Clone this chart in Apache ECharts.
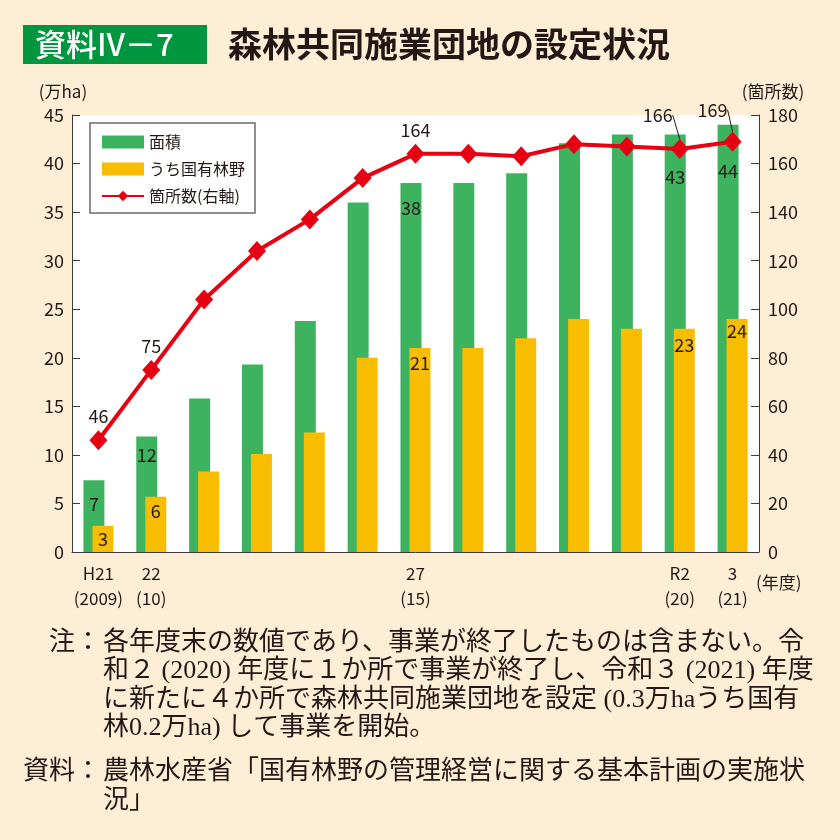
<!DOCTYPE html>
<html>
<head>
<meta charset="utf-8">
<script src="https://cdn.jsdelivr.net/npm/echarts@6/dist/echarts.min.js"></script>
<style>
html,body{margin:0;padding:0;background:#fdeed5;}
#chart{width:840px;height:840px;}
</style>
</head>
<body>
<div id="chart"></div>
<script>
// ---- data ----
const categories = ['H21','22','23','24','25','26','27','28','29','30','R1','R2','3'];
const fiscalYears = ['2009','10','11','12','13','14','15','16','17','18','19','20','21'];
const areaTotal = [7.4, 11.9, 15.8, 19.3, 23.8, 36.0, 38.0, 38.0, 39.0, 42.1, 43.0, 43.0, 44.0];
const areaNational = [2.7, 5.7, 8.3, 10.1, 12.3, 20.0, 21.0, 21.0, 22.0, 24.0, 23.0, 23.0, 24.0];
const siteCount = [46, 75, 104, 124, 137, 154, 164, 164, 163, 168, 167, 166, 169];
const shownYearIdx = [0, 1, 6, 11, 12];
const labeledIdx = [0, 1, 6, 11, 12];
const seriesNames = ['面積', 'うち国有林野', '箇所数(右軸)'];
const noteLines = [
  '各年度末の数値であり、事業が終了したものは含まない。令',
  '和２ (2020) 年度に１か所で事業が終了し、令和３ (2021) 年度',
  'に新たに４か所で森林共同施業団地を設定 (0.3万haうち国有',
  '林0.2万ha) して事業を開始。'
];
const sourceLines = [
  '農林水産省「国有林野の管理経営に関する基本計画の実施状',
  '況」'
];

// ---- styles ----
const TXT = '#231815';
const AX = '#3e3a39';
const FONT = "'Noto Sans CJK JP', 'Noto Sans', sans-serif";
const SERIF = "'Liberation Serif', 'Noto Sans CJK JP', serif";
const greenDist = {0: 15, 1: 10, 6: 16, 11: 34, 12: 37};
const yellowDist = {0: 4, 1: 6, 6: 6, 11: 8, 12: 3};
const lineOffset = {0: [-6, 0], 1: [-10, 0], 6: [0, 0], 11: [0, 0], 12: [0, 0]};

function barData(vals, dist) {
  return vals.map((v, i) => {
    if (labeledIdx.indexOf(i) >= 0) {
      return {value: v, label: {show: true, position: 'insideTop', distance: dist[i]}};
    }
    return v;
  });
}
const lineData = siteCount.map((v, i) => {
  if (labeledIdx.indexOf(i) >= 0) {
    const item = {value: v, label: {show: true, position: 'top', offset: lineOffset[i]}};
    if (i === 11 || i === 12) item.labelLine = {show: true};
    return item;
  }
  return v;
});

const chart = echarts.init(document.getElementById('chart'), null, {renderer: 'canvas'});

const NOTE_FONT = '26px ' + SERIF;
const graphics = [];
graphics.push({type: 'text', left: 756, top: 574, style: {text: '(年度)', fill: TXT, font: '17px ' + FONT}});
graphics.push({type: 'text', x: 101, y: 643, style: {text: '注：', font: NOTE_FONT, fill: TXT, align: 'right', verticalAlign: 'middle'}});
noteLines.forEach((t, i) => {
  graphics.push({type: 'text', x: 103, y: 643 + i * 28.5, style: {text: t, font: NOTE_FONT, fill: TXT, verticalAlign: 'middle'}});
});
graphics.push({type: 'text', x: 101, y: 772, style: {text: '資料：', font: NOTE_FONT, fill: TXT, align: 'right', verticalAlign: 'middle'}});
sourceLines.forEach((t, i) => {
  graphics.push({type: 'text', x: 103, y: 772 + i * 29.5, style: {text: t, font: NOTE_FONT, fill: TXT, verticalAlign: 'middle'}});
});

const option = {
  backgroundColor: '#fdeed5',
  animation: false,
  textStyle: {fontFamily: FONT},
  title: {
    left: 23, top: 23, padding: 0,
    text: '{a|資料IV－7}{b|森林共同施業団地の設定状況}',
    textStyle: {
      rich: {
        a: {backgroundColor: '#00963f', color: '#fff', fontSize: 31, fontFamily: FONT, fontWeight: 500,
            padding: [4, 12, 4, 12], width: 160, lineHeight: 35},
        b: {color: TXT, fontSize: 34, fontWeight: 'bold', fontFamily: FONT, padding: [0, 0, 0, 21], lineHeight: 43}
      }
    }
  },
  legend: {
    orient: 'vertical', left: 90, top: 123,
    padding: [11, 10, 9, 11],
    backgroundColor: '#fff', borderColor: '#6b6b6b', borderWidth: 1.5,
    itemWidth: 42, itemHeight: 13, itemGap: 11,
    textStyle: {fontSize: 16, color: TXT, fontFamily: FONT},
    data: [
      {name: seriesNames[0], icon: 'rect'},
      {name: seriesNames[1], icon: 'rect'},
      {name: seriesNames[2]}
    ]
  },
  grid: {left: 72, right: 81, top: 115, bottom: 288, show: true, backgroundColor: '#fff', borderWidth: 0},
  xAxis: {
    type: 'category', data: categories, boundaryGap: true,
    axisLine: {lineStyle: {color: AX, width: 1}},
    axisTick: {inside: true, length: 8, interval: 0, lineStyle: {color: AX}},
    axisLabel: {
      interval: 0, margin: 9, fontSize: 17, lineHeight: 25, color: TXT,
      formatter: function (v, i) {
        return shownYearIdx.indexOf(i) >= 0 ? v + '\n(' + fiscalYears[i] + ')' : '';
      }
    }
  },
  yAxis: [
    {
      type: 'value', min: 0, max: 45, interval: 5,
      name: '(万ha)', nameLocation: 'end', nameGap: 15,
      nameTextStyle: {fontSize: 17, color: TXT, align: 'center', padding: [0, 18, 0, 0]},
      axisLine: {show: true, lineStyle: {color: AX}},
      axisTick: {show: true, inside: true, length: 8, lineStyle: {color: AX}},
      axisLabel: {fontSize: 18, color: TXT, margin: 8},
      splitLine: {show: false}
    },
    {
      type: 'value', min: 0, max: 180, interval: 20,
      name: '(箇所数)', nameLocation: 'end', nameGap: 15,
      nameTextStyle: {fontSize: 17, color: TXT, align: 'center', padding: [0, 0, 0, 28]},
      axisLine: {show: true, lineStyle: {color: AX}},
      axisTick: {show: true, inside: true, length: 8, lineStyle: {color: AX}},
      axisLabel: {fontSize: 18, color: TXT, margin: 9},
      splitLine: {show: false}
    }
  ],
  series: [
    {
      name: seriesNames[0], type: 'bar', yAxisIndex: 0, barWidth: 21, barGap: '-57%',
      itemStyle: {color: '#3db25f'},
      label: {show: false, fontSize: 18, color: TXT, formatter: p => Math.round(p.value)},
      data: barData(areaTotal, greenDist)
    },
    {
      name: seriesNames[1], type: 'bar', yAxisIndex: 0, barWidth: 21, barGap: '-57%',
      itemStyle: {color: '#f9bd00'},
      label: {show: false, fontSize: 18, color: TXT, formatter: p => Math.round(p.value)},
      data: barData(areaNational, yellowDist)
    },
    {
      name: seriesNames[2], type: 'line', yAxisIndex: 1,
      symbol: 'diamond', symbolSize: [18, 20],
      lineStyle: {color: '#e60012', width: 4},
      itemStyle: {color: '#e60012'},
      label: {show: false, fontSize: 18, color: TXT, distance: 5},
      labelLine: {show: false, lineStyle: {color: TXT, width: 1}},
      labelLayout: function (p) {
        if (p.dataIndex === 11) return {dx: -22, dy: -10};
        if (p.dataIndex === 12) return {dx: -20, dy: -8};
        return {};
      },
      z: 5,
      data: lineData
    }
  ],
  graphic: graphics
};
chart.setOption(option);
</script>
</body>
</html>
